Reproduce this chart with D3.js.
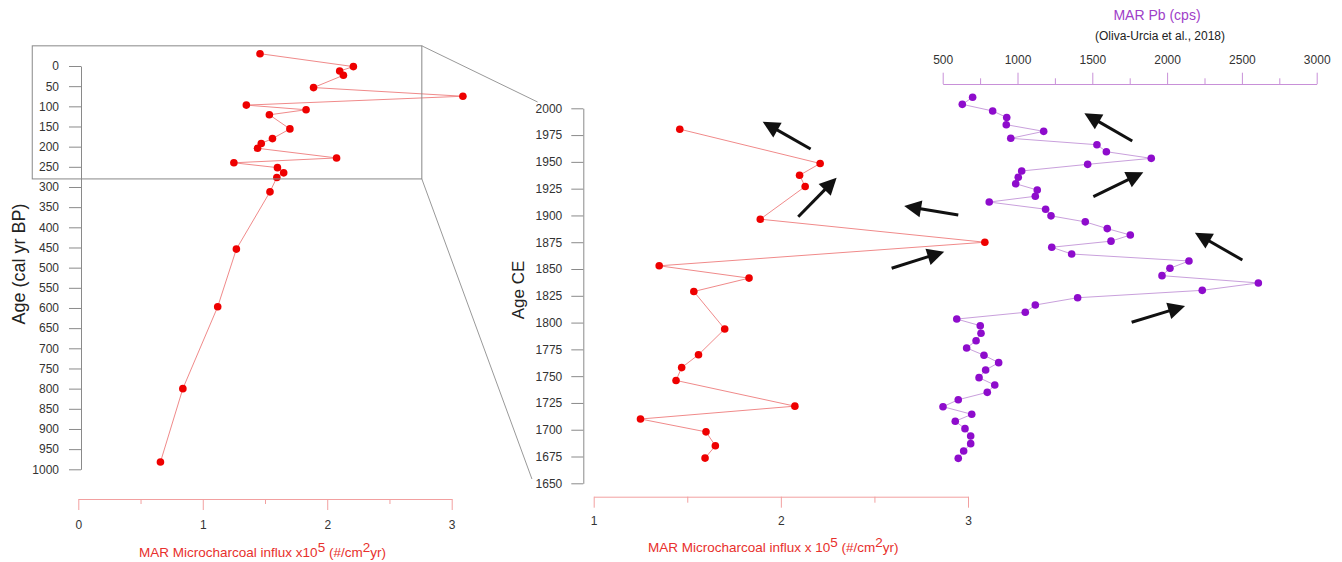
<!DOCTYPE html>
<html>
<head>
<meta charset="utf-8">
<script src="https://cdn.jsdelivr.net/npm/d3@7"></script>
<style>
  body { margin: 0; background: #fff; }
  svg { font-family: "Liberation Sans", Arial, sans-serif; }
</style>
</head>
<body>
<div id="chart"></div>
<script>
// Microcharcoal record (age in cal yr BP, influx x10^5)
const ageBP = [-30.5, 1.5, 12.5, 23, 53.5, 75, 97, 108.5, 121, 156, 180, 192, 204, 228, 240, 252, 265, 276.5, 312, 454, 597, 800, 982];
const charcoal = [1.46, 2.21, 2.10, 2.13, 1.89, 3.09, 1.35, 1.83, 1.535, 1.70, 1.56, 1.47, 1.44, 2.075, 1.25, 1.60, 1.65, 1.595, 1.54, 1.27, 1.12, 0.84, 0.66];

// Pb record (Oliva-Urcia et al., 2018)
const pbYear = [2010.3, 2003.7, 1997.5, 1991.4, 1984.7, 1978.5, 1972, 1966, 1959.5, 1953.3, 1947.7, 1941.5, 1935.6, 1929.6, 1923.7, 1917.9, 1912.5, 1905.8, 1899.6, 1894, 1887.7, 1881.7, 1876, 1870.3, 1864, 1857.5, 1850.7, 1843.8, 1837, 1830.1, 1823.2, 1816.4, 1809.6, 1803.3, 1797.1, 1790, 1783.1, 1776.3, 1769.5, 1762.6, 1755.8, 1748.6, 1741.7, 1734.9, 1728, 1721.5, 1714.4, 1707.9, 1701, 1694.1, 1687, 1680.1, 1673.3];
const pbValue = [700, 631, 834, 928, 925, 1175, 955, 1531, 1594, 1894, 1469, 1028, 1005, 988, 1132, 1119, 811, 1188, 1224, 1453, 1600, 1754, 1625, 1229, 1362, 2146, 2019, 1966, 2610, 2235, 1402, 1119, 1052, 594, 751, 756, 723, 660, 776, 874, 787, 743, 848, 798, 604, 502, 694, 584, 649, 687, 687, 640, 604];

// Tick values
const bpTicks = d3.range(0, 1001, 50);
const ceTicks = d3.range(1650, 2001, 25);
const charcoalTicks = d3.range(0, 3.01, 0.5);
const charcoalTicksMid = d3.range(1, 3.01, 0.5);
const pbTicks = d3.range(500, 3001, 250);

// Arrows: [from, to] in data units
const charcoalArrows = [
  [[2.159, 1962], [1.903, 1987.5]],
  [[2.093, 1898.8], [2.298, 1935.2]],
  [[2.948, 1900.4], [2.659, 1908.8]],
  [[2.592, 1850.7], [2.873, 1866.2]]
];
const pbArrows = [
  [[1767, 1969.5], [1447, 1995.3]],
  [[1507, 1917.5], [1841, 1940.3]],
  [[2503, 1858.4], [2186, 1883.9]],
  [[1763, 1800.3], [2120, 1815.5]]
];

const RED = '#ee0000';
const RED_LINE = '#f08a8a';
const RED_AXIS = '#f2a0a0';
const RED_TEXT = '#e8302c';
const PURPLE = '#8e0ccc';
const PURPLE_LINE = '#c9a0dc';
const PURPLE_AXIS = '#c890d8';
const PURPLE_TEXT = '#a040c8';
const GRAY_AXIS = '#8a8a8a';

const svg = d3.select('#chart').append('svg')
  .attr('width', 1342)
  .attr('height', 562);

// Scales
const yL = d3.scaleLinear().domain([0, 1000]).range([66, 469.3]);
const xL = d3.scaleLinear().domain([0, 3]).range([78.3, 451.7]);
const yM = d3.scaleLinear().domain([1650, 2000]).range([483.3, 108.3]);
const xM = d3.scaleLinear().domain([1, 3]).range([593.7, 968]);
const xR = d3.scaleLinear().domain([500, 3000]).range([942.7, 1316.7]);

function styleAxis(g, color, textColor) {
  g.select('.domain').attr('stroke', color).attr('stroke-width', 1);
  g.selectAll('.tick line').attr('stroke', color).attr('stroke-width', 1);
  g.selectAll('.tick text')
    .attr('fill', textColor)
    .attr('font-size', 12)
    .attr('font-family', '"Liberation Sans", Arial, sans-serif');
}

const isInt = v => Math.abs(v - Math.round(v)) < 1e-6;

// ---------- Left panel ----------
const leftY = svg.append('g')
  .attr('transform', `translate(${xL(0) + 2.7},0)`)
  .call(d3.axisLeft(yL).tickValues(bpTicks).tickSize(12).tickSizeOuter(0).tickPadding(10)
    .tickFormat(d3.format('d')));
styleAxis(leftY, GRAY_AXIS, '#333');

const leftX = svg.append('g')
  .attr('transform', `translate(0,499)`)
  .call(d3.axisBottom(xL).tickValues(charcoalTicks).tickSize(11).tickSizeOuter(0).tickPadding(10)
    .tickFormat(d => isInt(d) ? d3.format('d')(d) : ''));
styleAxis(leftX, RED_AXIS, '#333');
leftX.selectAll('.tick line').filter(d => !isInt(d)).attr('y2', 5);

svg.append('text')
  .attr('transform', 'translate(25,264) rotate(-90)')
  .attr('text-anchor', 'middle')
  .attr('font-size', 18)
  .attr('fill', '#222')
  .text('Age (cal yr BP)');

function charcoalTitle(x, y, text) {
  const t = svg.append('text')
    .attr('x', x).attr('y', y)
    .attr('text-anchor', 'middle')
    .attr('font-size', 13.5)
    .attr('fill', RED_TEXT);
  t.append('tspan').text(text);
  t.append('tspan').attr('dy', -5).text('5');
  t.append('tspan').attr('dy', 5).text(' (#/cm');
  t.append('tspan').attr('dy', -5).text('2');
  t.append('tspan').attr('dy', 5).text('yr)');
}
charcoalTitle(262.5, 557, 'MAR Microcharcoal influx x10');

const leftData = ageBP.map((a, i) => ({ age: a, v: charcoal[i] }));

svg.append('path')
  .datum(leftData)
  .attr('fill', 'none')
  .attr('stroke', RED_LINE)
  .attr('stroke-width', 1)
  .attr('d', d3.line().x(d => xL(d.v)).y(d => yL(d.age)));

svg.append('g').selectAll('circle')
  .data(leftData)
  .join('circle')
  .attr('cx', d => xL(d.v))
  .attr('cy', d => yL(d.age))
  .attr('r', 3.8)
  .attr('fill', RED);

// Zoom frame and connectors
const frame = { x0: -0.37, x1: 2.76, a0: -50, a1: 280 };
svg.append('rect')
  .attr('x', xL(frame.x0))
  .attr('y', yL(frame.a0))
  .attr('width', xL(frame.x1) - xL(frame.x0))
  .attr('height', yL(frame.a1) - yL(frame.a0))
  .attr('fill', 'none')
  .attr('stroke', '#888')
  .attr('stroke-width', 1);

svg.append('line')
  .attr('x1', xL(frame.x1)).attr('y1', yL(frame.a0))
  .attr('x2', xM(0.70)).attr('y2', yM(2005.9))
  .attr('stroke', '#999').attr('stroke-width', 1);
svg.append('line')
  .attr('x1', xL(frame.x1)).attr('y1', yL(frame.a1))
  .attr('x2', xM(0.67)).attr('y2', yM(1654))
  .attr('stroke', '#999').attr('stroke-width', 1);

// ---------- Middle panel ----------
const midY = svg.append('g')
  .attr('transform', `translate(${xM(1) - 10.4},0)`)
  .call(d3.axisLeft(yM).tickValues(ceTicks).tickSize(12).tickSizeOuter(0).tickPadding(9)
    .tickFormat(d3.format('d')));
styleAxis(midY, GRAY_AXIS, '#333');

const midX = svg.append('g')
  .attr('transform', `translate(0,496.7)`)
  .call(d3.axisBottom(xM).tickValues(charcoalTicksMid).tickSize(11).tickSizeOuter(0).tickPadding(9)
    .tickFormat(d => isInt(d) ? d3.format('d')(d) : ''));
styleAxis(midX, RED_AXIS, '#333');
midX.selectAll('.tick line').filter(d => !isInt(d)).attr('y2', 6);

svg.append('text')
  .attr('transform', 'translate(524,290) rotate(-90)')
  .attr('text-anchor', 'middle')
  .attr('font-size', 17)
  .attr('fill', '#222')
  .text('Age CE');

charcoalTitle(773.3, 552, 'MAR Microcharcoal influx x 10');

const midData = leftData.filter(d => 1950 - d.age >= 1650);

svg.append('path')
  .datum(midData)
  .attr('fill', 'none')
  .attr('stroke', RED_LINE)
  .attr('stroke-width', 1)
  .attr('d', d3.line().x(d => xM(d.v)).y(d => yM(1950 - d.age)));

svg.append('g').selectAll('circle')
  .data(midData)
  .join('circle')
  .attr('cx', d => xM(d.v))
  .attr('cy', d => yM(1950 - d.age))
  .attr('r', 3.8)
  .attr('fill', RED);

// ---------- Right panel (Pb) ----------
const topX = svg.append('g')
  .attr('transform', `translate(0,84)`)
  .call(d3.axisTop(xR).tickValues(pbTicks).tickSize(11.3).tickSizeOuter(0).tickPadding(9)
    .tickFormat(d => d % 500 === 0 ? d3.format('d')(d) : ''));
styleAxis(topX, PURPLE_AXIS, '#333');
topX.selectAll('.tick line').filter(d => d % 500 !== 0).attr('y2', -5.7);

svg.append('text')
  .attr('x', 1157).attr('y', 20)
  .attr('text-anchor', 'middle')
  .attr('font-size', 14)
  .attr('fill', PURPLE_TEXT)
  .text('MAR Pb (cps)');

svg.append('text')
  .attr('x', 1160).attr('y', 39.5)
  .attr('text-anchor', 'middle')
  .attr('font-size', 12)
  .attr('fill', '#222')
  .text('(Oliva-Urcia et al., 2018)');

const pbData = pbYear.map((y, i) => ({ year: y, v: pbValue[i] }));

svg.append('path')
  .datum(pbData)
  .attr('fill', 'none')
  .attr('stroke', PURPLE_LINE)
  .attr('stroke-width', 1)
  .attr('d', d3.line().x(d => xR(d.v)).y(d => yM(d.year)));

svg.append('g').selectAll('circle')
  .data(pbData)
  .join('circle')
  .attr('cx', d => xR(d.v))
  .attr('cy', d => yM(d.year))
  .attr('r', 3.8)
  .attr('fill', PURPLE);

// ---------- Arrows ----------
function drawArrow(x1, y1, x2, y2) {
  const dx = x2 - x1, dy = y2 - y1;
  const len = Math.hypot(dx, dy);
  const ux = dx / len, uy = dy / len;
  const headLen = 17, headHalf = 8.5;
  const bx = x2 - ux * headLen, by = y2 - uy * headLen;
  svg.append('line')
    .attr('x1', x1).attr('y1', y1)
    .attr('x2', bx + ux * 2).attr('y2', by + uy * 2)
    .attr('stroke', '#111')
    .attr('stroke-width', 3);
  const pts = [
    [x2, y2],
    [bx - uy * headHalf, by + ux * headHalf],
    [bx + uy * headHalf, by - ux * headHalf]
  ];
  svg.append('polygon')
    .attr('points', pts.map(p => p.join(',')).join(' '))
    .attr('fill', '#111');
}

charcoalArrows.forEach(([a, b]) => drawArrow(xM(a[0]), yM(a[1]), xM(b[0]), yM(b[1])));
pbArrows.forEach(([a, b]) => drawArrow(xR(a[0]), yM(a[1]), xR(b[0]), yM(b[1])));
</script>
</body>
</html>
